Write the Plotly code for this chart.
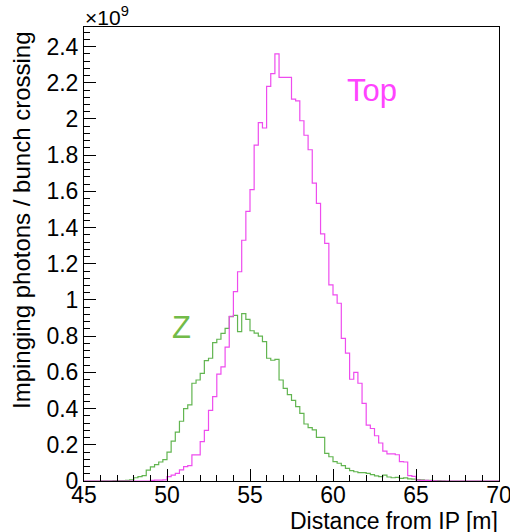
import plotly.graph_objects as go

# Histogram binning: 100 bins of 0.25 m from 45 to 70 m
bin_low = 45.0
bin_width = 0.25
n_bins = 100

# Impinging photons / bunch crossing, in units of 1e9
top_values = [
    0, 0, 0, 0, 0, 0, 0, 0, 0, 0, 0, 0, 0, 0, 0, 0,
    0.003, 0.005, 0.005, 0.006, 0.024, 0.033, 0.042, 0.061, 0.079, 0.085,
    0.144, 0.144, 0.217, 0.28, 0.39, 0.466, 0.59, 0.63, 0.74, 0.91,
    1.046, 1.156, 1.33, 1.49, 1.61, 1.856, 1.98, 1.95, 2.18, 2.25,
    2.36, 2.23, 2.23, 2.23, 2.11, 2.10, 1.99, 1.91, 1.83, 1.645,
    1.534, 1.365, 1.313, 1.083, 1.028, 0.982, 0.788, 0.706, 0.562, 0.600,
    0.540, 0.429, 0.309, 0.29, 0.25, 0.21, 0.165, 0.15, 0.15, 0.145,
    0.107, 0.105, 0.03, 0.025, 0.005, 0.004, 0.003, 0.002, 0.001,
    0, 0, 0, 0, 0, 0, 0, 0, 0, 0, 0, 0, 0, 0, 0,
]

z_values = [
    0, 0, 0, 0,
    0.001, 0.001, 0.001, 0.002, 0.002, 0.002, 0.004, 0.006, 0.018, 0.024,
    0.03, 0.06, 0.078, 0.09, 0.105, 0.118, 0.16, 0.22, 0.27, 0.33,
    0.40, 0.42, 0.54, 0.558, 0.595, 0.665, 0.678, 0.764, 0.783, 0.816,
    0.843, 0.908, 0.915, 0.825, 0.925, 0.893, 0.83, 0.817, 0.80, 0.77,
    0.678, 0.667, 0.672, 0.558, 0.512, 0.477, 0.445, 0.411, 0.374, 0.315,
    0.295, 0.282, 0.241, 0.241, 0.153, 0.134, 0.107, 0.098, 0.085, 0.07,
    0.057, 0.051, 0.046, 0.046, 0.042, 0.035, 0.028, 0.024, 0.032, 0.022,
    0.018, 0.02, 0.015, 0.017, 0.012, 0.01, 0.008, 0.006, 0.004, 0.003,
    0.002, 0.002, 0.001,
    0, 0, 0, 0, 0, 0, 0, 0, 0, 0, 0, 0, 0,
]

x_label = "Distance from IP [m]"
y_label = "Impinging photons / bunch crossing"
series_labels = ["Z", "Top"]

FONT = "Liberation Sans, Arial, Helvetica, sans-serif"
MAGENTA = "#ee4cee"
GREEN = "#62b550"

edges = [bin_low + i * bin_width for i in range(n_bins + 1)]


def step_xy(vals):
    xs = [bin_low] + edges + [edges[-1]]
    ys = [0] + list(vals) + [vals[-1], 0]
    return xs, ys


fig = go.Figure()
for vals, col in [(z_values, GREEN), (top_values, MAGENTA)]:
    xs, ys = step_xy(vals)
    fig.add_trace(go.Scatter(x=xs, y=ys, mode="lines", line=dict(color=col, width=1.2, shape="hv"),
                             showlegend=False, hoverinfo="skip"))

axis_common = dict(
    showline=True, linecolor="black", linewidth=1, mirror=True,
    ticks="inside", ticklen=12, tickwidth=1, tickcolor="black",
    showgrid=False, zeroline=False, automargin=False,
    ticklabeloverflow="allow",
    tickfont=dict(family=FONT, size=23, color="black"),
)

fig.update_xaxes(range=[45, 70], tick0=45, dtick=5, ticklabelstandoff=-7,
                 minor=dict(ticks="inside", ticklen=6, dtick=1, tickcolor="black", showgrid=False),
                 **axis_common)
fig.update_yaxes(range=[0, 2.508], tick0=0, dtick=0.2,
                 minor=dict(ticks="inside", ticklen=6, dtick=0.04, tickcolor="black", showgrid=False),
                 **axis_common)

fig.add_annotation(xref="paper", yref="paper", x=1.003, y=-0.088, xanchor="right", yanchor="middle",
                   text=x_label, showarrow=False, font=dict(family=FONT, size=23, color="black"))
fig.add_annotation(xref="paper", yref="paper", x=-0.15, y=0.995, xanchor="center", yanchor="top",
                   text=y_label, textangle=-90, showarrow=False,
                   font=dict(family=FONT, size=24, color="black"))
fig.add_annotation(xref="paper", yref="paper", x=-0.003, y=1.0, xanchor="left", yanchor="bottom",
                   text="×10<sup>9</sup>", showarrow=False, yshift=-4,
                   font=dict(family=FONT, size=21, color="black"))
fig.add_annotation(x=62.35, y=2.16, text=series_labels[1], showarrow=False,
                   font=dict(family=FONT, size=31, color="#ff44ff"))
fig.add_annotation(x=50.9, y=0.85, text=series_labels[0], showarrow=False,
                   font=dict(family=FONT, size=31, color="#72bb48"))

fig.update_layout(width=510, height=532, margin=dict(l=84, r=11, t=27, b=51),
                  plot_bgcolor="white", paper_bgcolor="white",
                  font=dict(family=FONT))

# Remove the default page margin so the 510x532 figure fills the window exactly.
fig.write_html("out.html",
               config={"displayModeBar": False},
               post_script="document.body.style.margin='0';document.body.style.overflow='hidden';")
